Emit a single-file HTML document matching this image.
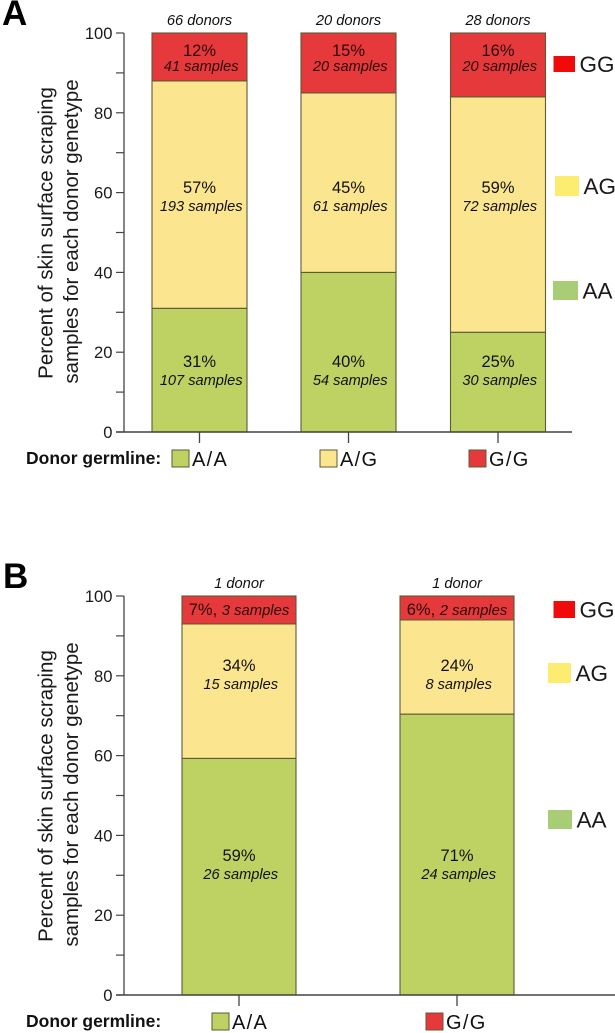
<!DOCTYPE html>
<html lang="en">
<head>
<meta charset="utf-8">
<title>Skin surface scraping samples by donor genotype</title>
<style>
html,body{margin:0;padding:0;background:#fff;width:615px;height:1033px;overflow:hidden}
svg{display:block;font-family:"Liberation Sans",sans-serif}
</style>
</head>
<body>
<svg id="fig" width="615" height="1033" viewBox="0 0 615 1033" xmlns="http://www.w3.org/2000/svg"></svg>
<script>
// Shared axis data
const yTicks = [0, 10, 20, 30, 40, 50, 60, 70, 80, 90, 100];
const yTickLabels = ["0", "", "20", "", "40", "", "60", "", "80", "", "100"];
const genotypes = ["AA", "AG", "GG"];

// Panel A data
const categoriesA = ["A/A", "A/G", "G/G"];
const donorsA = ["66 donors", "20 donors", "28 donors"];
const aaValuesA = [31, 40, 25];
const agValuesA = [57, 45, 59];
const ggValuesA = [12, 15, 16];
const aaPercentA = ["31%", "40%", "25%"];
const agPercentA = ["57%", "45%", "59%"];
const ggPercentA = ["12%", "15%", "16%"];
const aaSamplesA = ["107 samples", "54 samples", "30 samples"];
const agSamplesA = ["193 samples", "61 samples", "72 samples"];
const ggSamplesA = ["41 samples", "20 samples", "20 samples"];

// Panel B data
const categoriesB = ["A/A", "G/G"];
const donorsB = ["1 donor", "1 donor"];
const aaValuesB = [59.3, 70.4];
const agValuesB = [33.7, 23.6];
const ggValuesB = [7, 6];
const aaPercentB = ["59%", "71%"];
const agPercentB = ["34%", "24%"];
const ggPercentB = ["7%, 3 samples", "6%, 2 samples"];
const aaSamplesB = ["26 samples", "24 samples"];
const agSamplesB = ["15 samples", "8 samples"];

const svg = document.getElementById('fig');
const NS = 'http://www.w3.org/2000/svg';
const COLORS = {AA: '#bdd262', AG: '#fbe68f', GG: '#e5393b'};
const STROKE = '#5e5a36';
const AXIS = '#444';

function make(tag, attrs, text) {
  const el = document.createElementNS(NS, tag);
  for (const k in attrs) el.setAttribute(k, attrs[k]);
  if (text !== undefined) el.textContent = text;
  svg.appendChild(el);
  return el;
}

function drawPanel(p) {
  const yOf = v => p.y0 - (v / 100) * (p.y0 - p.y100);

  const yAxis = make('line', {x1: p.axisX, x2: p.axisX, y1: yOf(0), y2: yOf(100), stroke: AXIS, 'stroke-width': 1.3});
  
  

  yTicks.forEach((t, i) => {
    const tick = make('line', {x1: p.axisX - 8, x2: p.axisX, y1: yOf(t), y2: yOf(t), stroke: AXIS, 'stroke-width': 1.2});
    
    
    if (yTickLabels[i]) {
      const lab = make('text', {x: p.axisX - 11.5, y: yOf(t) + 6, 'text-anchor': 'end', 'font-size': 16.6, fill: '#1a1a1a'}, yTickLabels[i]);
      
      
    }
  });

  const title = [['Percent of skin surface scraping', 52.5, 20.5, 0.5], ['samples for each donor genetype', 78, 20.5, -1]];
  title.forEach((line, i) => {
    const cy = (yOf(0) + yOf(100)) / 2 + line[3];
    const t = make('text', {x: line[1], y: cy, 'text-anchor': 'middle', 'font-size': line[2], fill: '#1a1a1a', transform: 'rotate(-90 ' + line[1] + ' ' + cy + ')'}, line[0]);
    
    
  });

  p.categories.forEach((cat, i) => {
    const cx = p.centers[i];
    const x = cx - p.barW / 2;
    const aa = p.aa[i], ag = p.ag[i], gg = p.gg[i];
    const segs = [['AA', 0, aa], ['AG', aa, aa + ag], ['GG', aa + ag, aa + ag + gg]];
    segs.forEach(s => {
      const r = make('rect', {x: x, y: yOf(s[2]), width: p.barW, height: yOf(s[1]) - yOf(s[2]), fill: COLORS[s[0]], stroke: STROKE, 'stroke-width': 1.1});
      
      
    });

    const tickDown = make('line', {x1: cx, x2: cx, y1: yOf(0), y2: yOf(0) + 11, stroke: AXIS, 'stroke-width': 1.3});
    
    

    const donor = make('text', {x: cx, y: p.y100 - 8, 'text-anchor': 'middle', 'font-size': 14.7, 'font-style': 'italic', fill: '#111'}, p.donors[i]);
    
    

    p.rows.forEach(row => {
      const pct = row.pct[i];
      if (pct) {
        const italic = !row.samples;
        const t = make('text', {x: cx, y: row.pctY, 'text-anchor': 'middle', 'font-size': italic ? 14.8 : 16.5, 'font-style': 'normal', fill: row.fill}, '');
        if (italic) {
          const parts = pct.split(', ');
          const a = document.createElementNS(NS, 'tspan');
          a.setAttribute('font-size', '16.5');
          a.textContent = parts[0] + ', ';
          const b = document.createElementNS(NS, 'tspan');
          b.setAttribute('font-style', 'italic');
          b.textContent = parts[1];
          t.appendChild(a);
          t.appendChild(b);
        } else {
          t.textContent = pct;
        }
        
        
      }
      if (row.samples) {
        const s = make('text', {x: cx + 1.7, y: row.sampleY, 'text-anchor': 'middle', 'font-size': 14.6, 'font-style': 'italic', fill: row.fill}, row.samples[i]);
        
        
      }
    });

    const sw = make('rect', {x: p.swatchX[i], y: yOf(0) + p.swatchDy, width: 17, height: 17, fill: p.swatchColors[i], stroke: STROKE, 'stroke-width': 1});
    
    
    const lab = make('text', {x: p.swatchX[i] + 20, y: yOf(0) + p.swatchDy + 16, 'font-size': 20, fill: '#111', 'letter-spacing': 1.3}, cat);
    
    
  });

  const xAxis = make('line', {x1: p.axisX - 8, x2: p.axisEnd, y1: yOf(0), y2: yOf(0), stroke: AXIS, 'stroke-width': 1.4});
  
  

  const letter = make('text', {x: p.letterX, y: p.letterY, 'font-size': 35, 'font-weight': 'bold', fill: '#000'}, p.letter);
  
  

  const germ = make('text', {x: 26, y: yOf(0) + p.swatchDy + 14, 'font-size': 17.5, 'font-weight': 'bold', fill: '#111'}, 'Donor germline:');
  
  

  genotypes.forEach((g, i) => {
    const l = p.legend[i];
    const r = make('rect', {x: l[0], y: l[1], width: l[2], height: l[3], fill: l[4]});
    
    
    const t = make('text', {x: l[0] + l[2] + 4.5, y: l[1] + l[3] / 2 + 8, 'font-size': 22.5, fill: '#1a1a1a'}, g);
    
    
  });
}

drawPanel({
  id: 'panel-a', letter: 'A', letterX: 2, letterY: 25,
  y0: 432, y100: 33, axisX: 124, axisEnd: 572, barW: 95,
  centers: [199.5, 348.5, 498],
  categories: categoriesA, donors: donorsA,
  aa: aaValuesA, ag: agValuesA, gg: ggValuesA,
  swatchX: [172, 320, 469], swatchDy: 18,
  swatchColors: [COLORS.AA, COLORS.AG, COLORS.GG],
  rows: [
    {key: 'gg', pct: ggPercentA, samples: ggSamplesA, pctY: 56, sampleY: 71, fill: '#2a0a0a'},
    {key: 'ag', pct: agPercentA, samples: agSamplesA, pctY: 193, sampleY: 211, fill: '#111'},
    {key: 'aa', pct: aaPercentA, samples: aaSamplesA, pctY: 367, sampleY: 385, fill: '#111'}
  ],
  legend: [
    [553, 281, 25, 19, '#a9cd76'],
    [555, 176, 24, 20, '#fcec70'],
    [553.5, 56, 21.5, 16, '#f00a0a']
  ]
});

drawPanel({
  id: 'panel-b', letter: 'B', letterX: 3, letterY: 588,
  y0: 995, y100: 596, axisX: 124, axisEnd: 615, barW: 114,
  centers: [239, 457],
  categories: categoriesB, donors: donorsB,
  aa: aaValuesB, ag: agValuesB, gg: ggValuesB,
  swatchX: [212, 426], swatchDy: 18,
  swatchColors: [COLORS.AA, COLORS.GG],
  rows: [
    {key: 'gg', pct: ggPercentB, samples: null, pctY: 615, fill: '#2a0a0a'},
    {key: 'ag', pct: agPercentB, samples: agSamplesB, pctY: 671, sampleY: 689, fill: '#111'},
    {key: 'aa', pct: aaPercentB, samples: aaSamplesB, pctY: 861, sampleY: 879, fill: '#111'}
  ],
  legend: [
    [548, 810, 24, 19, '#a9cd76'],
    [548, 663, 23, 20, '#fcec70'],
    [553.5, 601, 21.5, 17, '#f00a0a']
  ]
});
</script>
</body>
</html>
